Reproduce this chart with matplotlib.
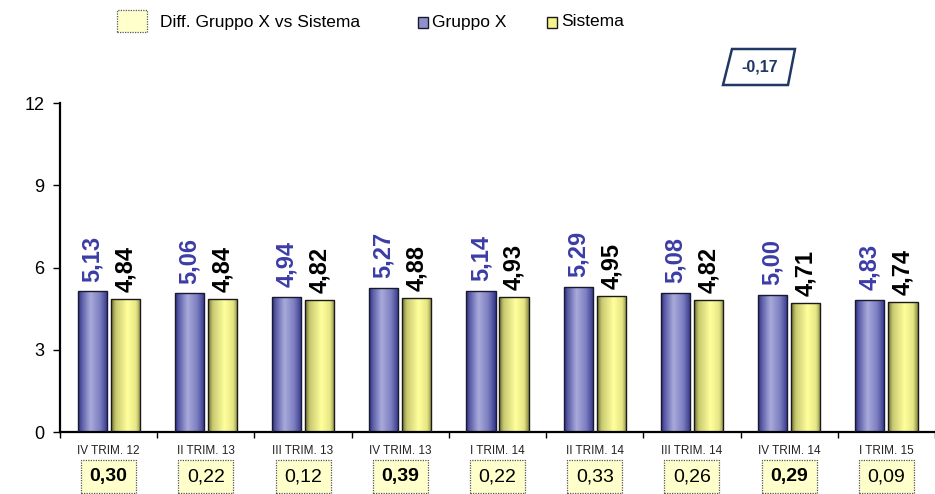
import numpy as np
import matplotlib
matplotlib.use("Agg")
import matplotlib.pyplot as plt
from matplotlib.patches import Rectangle, Polygon
from matplotlib.colors import LinearSegmentedColormap
from matplotlib.transforms import blended_transform_factory

plt.rcParams["font.family"] = ["Liberation Sans", "DejaVu Sans"]

quarters = ["IV TRIM. 12", "II TRIM. 13", "III TRIM. 13", "IV TRIM. 13", "I TRIM. 14",
            "II TRIM. 14", "III TRIM. 14", "IV TRIM. 14", "I TRIM. 15"]
gruppo_x = [5.13, 5.06, 4.94, 5.27, 5.14, 5.29, 5.08, 5.00, 4.83]
sistema = [4.84, 4.84, 4.82, 4.88, 4.93, 4.95, 4.82, 4.71, 4.74]
diff = [0.30, 0.22, 0.12, 0.39, 0.22, 0.33, 0.26, 0.29, 0.09]
delta_note = -0.17
y_ticks = [0, 3, 6, 9, 12]


def fmt(v):
    return f"{v:.2f}".replace(".", ",")


W, H = 935, 494
fig = plt.figure(figsize=(W / 100, H / 100), dpi=100)
ax = fig.add_axes([60 / W, 1 - 432 / H, 875 / W, (432 - 103) / H])

x = np.arange(len(quarters))
bw = 0.30
off = 0.17

bars_g = ax.bar(x - off, gruppo_x, bw, color="#8f91cc", edgecolor="#1a1a2e", linewidth=1.0, zorder=2)
bars_s = ax.bar(x + off, sistema, bw, color="#f4f48c", edgecolor="#1a1a1a", linewidth=1.0, zorder=2)

# horizontal shading inside each bar
cmap_g = LinearSegmentedColormap.from_list(
    "g", [(0, "#2e2e80"), (0.12, "#5a5ca8"), (0.42, "#a9abdb"), (0.75, "#7b7dbf"), (1, "#33358a")])
cmap_s = LinearSegmentedColormap.from_list(
    "s", [(0, "#6e6e30"), (0.15, "#c8c870"), (0.55, "#ffff9c"), (0.85, "#e6e684"), (1, "#8a8a44")])
grad = np.linspace(0, 1, 64).reshape(1, -1)

for bars, cmap in ((bars_g, cmap_g), (bars_s, cmap_s)):
    for b in bars:
        x0, w, h = b.get_x(), b.get_width(), b.get_height()
        im = ax.imshow(grad, cmap=cmap, aspect="auto", extent=(x0, x0 + w, 0, h),
                       interpolation="bicubic", zorder=2.5)
        im.set_clip_path(b)
        b.set_facecolor("none")
        b.set_zorder(3)

ax.set_xlim(-0.5, len(quarters) - 0.5)
ax.set_ylim(0, 12)
ax.set_yticks(y_ticks)
ax.set_yticklabels([str(t) for t in y_ticks], fontsize=13)
ax.set_xticks(x)
ax.set_xticklabels(quarters, fontsize=8.5, color="#222222")
ax.set_xticks(np.arange(len(quarters) + 1) - 0.5, minor=True)
ax.tick_params(axis="x", which="major", length=0, pad=9)
ax.tick_params(axis="x", which="minor", length=4, width=1, direction="out")
ax.tick_params(axis="y", length=5, width=1, direction="out", pad=6)
for s in ("top", "right"):
    ax.spines[s].set_visible(False)
for s in ("left", "bottom"):
    ax.spines[s].set_linewidth(1.6)

# value labels above bars
for b, v in zip(bars_g, gruppo_x):
    ax.annotate(fmt(v), (b.get_x() + b.get_width() / 2, v), xytext=(0, 7),
                textcoords="offset points", rotation=90, ha="center", va="bottom",
                fontsize=17, fontweight="bold", color="#3c3ca6")
for b, v in zip(bars_s, sistema):
    ax.annotate(fmt(v), (b.get_x() + b.get_width() / 2, v), xytext=(0, 5),
                textcoords="offset points", rotation=90, ha="center", va="bottom",
                fontsize=17, fontweight="bold", color="#000000")

# difference boxes under the category labels (year-end quarters in bold)
tr = blended_transform_factory(ax.transData, ax.transAxes)
box_w = 55 / 97.2
y_bot = (432 - 493) / 329
y_top = (432 - 460) / 329
for i, (q, d) in enumerate(zip(quarters, diff)):
    ax.add_patch(Rectangle((i - box_w / 2, y_bot), box_w, y_top - y_bot, transform=tr,
                           facecolor="#ffffcc", edgecolor="#555555", linestyle=(0, (1, 1)),
                           linewidth=0.9, clip_on=False))
    ax.text(i, (y_bot + y_top) / 2, fmt(d), transform=tr, ha="center", va="center",
            fontsize=14, fontweight="bold" if q.startswith("IV ") else "normal")

# legend row
fig.patches.append(Rectangle((117 / W, 1 - 32 / H), 30 / W, 22 / H, transform=fig.transFigure,
                             facecolor="#ffffcc", edgecolor="#555555", linestyle=(0, (1, 1)),
                             linewidth=0.9))
fig.text(160 / W, 1 - 22 / H, "Diff. Gruppo X vs Sistema", fontsize=12.5, va="center", ha="left")
fig.patches.append(Rectangle((418 / W, 1 - 28 / H), 10 / W, 11 / H, transform=fig.transFigure,
                             facecolor="#8f91cc", edgecolor="#1a1a2e", linewidth=1))
fig.text(432 / W, 1 - 22 / H, "Gruppo X", fontsize=12.5, va="center", ha="left")
fig.patches.append(Rectangle((547 / W, 1 - 28 / H), 10 / W, 11 / H, transform=fig.transFigure,
                             facecolor="#f4f48c", edgecolor="#1a1a1a", linewidth=1))
fig.text(561 / W, 1 - 22 / H, "Sistema", fontsize=12.5, va="center", ha="left")

# note in a slanted frame
pts = [(732, 49), (795, 49), (788, 85), (723, 85)]
fig.patches.append(Polygon([(px / W, 1 - py / H) for px, py in pts], closed=True,
                           transform=fig.transFigure, facecolor="white",
                           edgecolor="#1f3864", linewidth=1.8))
fig.text(760 / W, 1 - 67 / H, fmt(delta_note), fontsize=11.5, fontweight="bold",
         color="#1f3864", ha="center", va="center")

fig.savefig("out.png", dpi=100)
